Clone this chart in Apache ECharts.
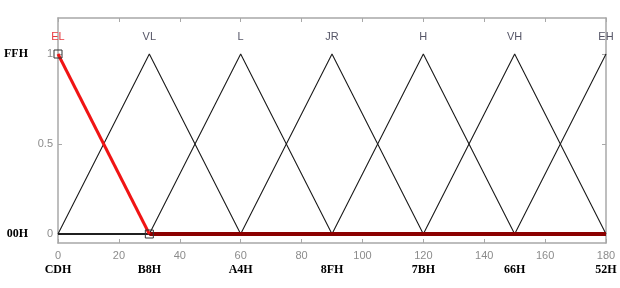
<!DOCTYPE html>
<html>
<head>
<meta charset="utf-8">
<script src="https://cdn.jsdelivr.net/npm/echarts@6/dist/echarts.min.js"></script>
<style>html,body{margin:0;padding:0;background:#fff}#c{width:620px;height:288px}</style>
</head>
<body>
<div id="c"></div>
<script>
// breakpoints of the membership functions (x axis)
const breakX = [0, 30, 60, 90, 120, 150, 180];
// fuzzy set names (shown at the top, at each peak)
const setNames = ['EL', 'VL', 'L', 'JR', 'H', 'VH', 'EH'];
// hex labels under the x axis at each breakpoint
const xHexLabels = ['CDH', 'B8H', 'A4H', '8FH', '7BH', '66H', '52H'];
// hex labels at left for y = 0 and y = 1
const yHexValues = [0, 1];
const yHexLabels = ['00H', 'FFH'];
// membership values of each set at the breakpoints
const mfEL = [1, 0, 0, 0, 0, 0, 0];
const mfVL = [0, 1, 0, 0, 0, 0, 0];
const mfL  = [0, 0, 1, 0, 0, 0, 0];
const mfJR = [0, 0, 0, 1, 0, 0, 0];
const mfH  = [0, 0, 0, 0, 1, 0, 0];
const mfVH = [0, 0, 0, 0, 0, 1, 0];
const mfEH = [0, 0, 0, 0, 0, 0, 1];
// y ticks
const yTicks = [0, 0.5, 1];

const pairs = vals => breakX.map((x, i) => [x, vals[i]]);
const gray = '#a8a8a8';
const blackMFs = [mfVL, mfL, mfJR, mfH, mfVH, mfEH];

const series = blackMFs.map(v => ({
  type: 'line', data: pairs(v), symbol: 'none',
  lineStyle: { color: '#1a1a1a', width: 1.1 }, z: 2, silent: true
}));
const elPts = pairs(mfEL);
series.push({
  type: 'line', data: elPts.slice(1), symbol: 'none',
  lineStyle: { color: '#8b0000', width: 4 }, z: 3
});
series.push({
  type: 'line', data: elPts.slice(0, 2), symbol: 'rect', symbolSize: 8,
  showAllSymbol: true,
  itemStyle: { color: 'rgba(255,255,255,0)', borderColor: '#333', borderWidth: 1 },
  lineStyle: { color: '#f01414', width: 3 }, z: 4
});

const boxLine = { show: true, onZero: false, lineStyle: { color: gray, width: 1.5 } };
const tick = { show: true, inside: true, length: 4, lineStyle: { color: gray } };

const chart = echarts.init(document.getElementById('c'), null, { renderer: 'canvas' });
chart.setOption({
  animation: false,
  grid: { left: 58, right: 14, top: 18, bottom: 45 },
  xAxis: [
    { type: 'value', position: 'bottom', min: 0, max: 180, interval: 20,
      axisLine: boxLine, axisTick: tick,
      axisLabel: { color: '#8c8c8c', fontSize: 11, margin: 7, fontFamily: 'Liberation Sans' },
      splitLine: { show: false } },
    { type: 'value', position: 'bottom', min: 0, max: 180, interval: 30,
      axisLine: { show: false, onZero: false }, axisTick: { show: false }, splitLine: { show: false },
      axisLabel: { margin: 21, fontSize: 12, fontWeight: 'bold', color: '#000',
        fontFamily: 'Liberation Serif',
        formatter: v => xHexLabels[breakX.indexOf(Number(v))] || '' } },
    { type: 'value', position: 'top', min: 0, max: 180, interval: 20,
      axisLine: boxLine, axisTick: tick,
      axisLabel: { show: false }, splitLine: { show: false } },
    { type: 'value', position: 'top', min: 0, max: 180, interval: 30,
      axisLine: { show: false, onZero: false }, axisTick: { show: false }, splitLine: { show: false },
      axisLabel: { inside: true, margin: 13,
        formatter: v => {
          const i = breakX.indexOf(Number(v));
          if (i < 0) return '';
          return (i === 0 ? '{r|' : '{g|') + setNames[i] + '}';
        },
        rich: {
          r: { color: '#e8383d', fontSize: 11, fontFamily: 'Liberation Sans' },
          g: { color: '#555566', fontSize: 11, fontFamily: 'Liberation Sans' }
        } } }
  ],
  yAxis: [
    { type: 'value', position: 'left', min: -0.05, max: 1.2,
      axisLine: boxLine,
      axisTick: Object.assign({}, tick, { customValues: yTicks }),
      axisLabel: { customValues: yTicks, color: '#8c8c8c', fontSize: 11, margin: 5, fontFamily: 'Liberation Sans' },
      splitLine: { show: false } },
    { type: 'value', position: 'left', min: -0.05, max: 1.2,
      axisLine: { show: false, onZero: false }, axisTick: { show: false }, splitLine: { show: false },
      axisLabel: { customValues: yHexValues, margin: 30, fontSize: 12, fontWeight: 'bold',
        color: '#000', fontFamily: 'Liberation Serif',
        formatter: v => yHexLabels[yHexValues.indexOf(Number(v))] || '' } },
    { type: 'value', position: 'right', min: -0.05, max: 1.2,
      axisLine: boxLine,
      axisTick: Object.assign({}, tick, { customValues: yTicks }),
      axisLabel: { show: false }, splitLine: { show: false } }
  ],
  series: series
});
</script>
</body>
</html>
